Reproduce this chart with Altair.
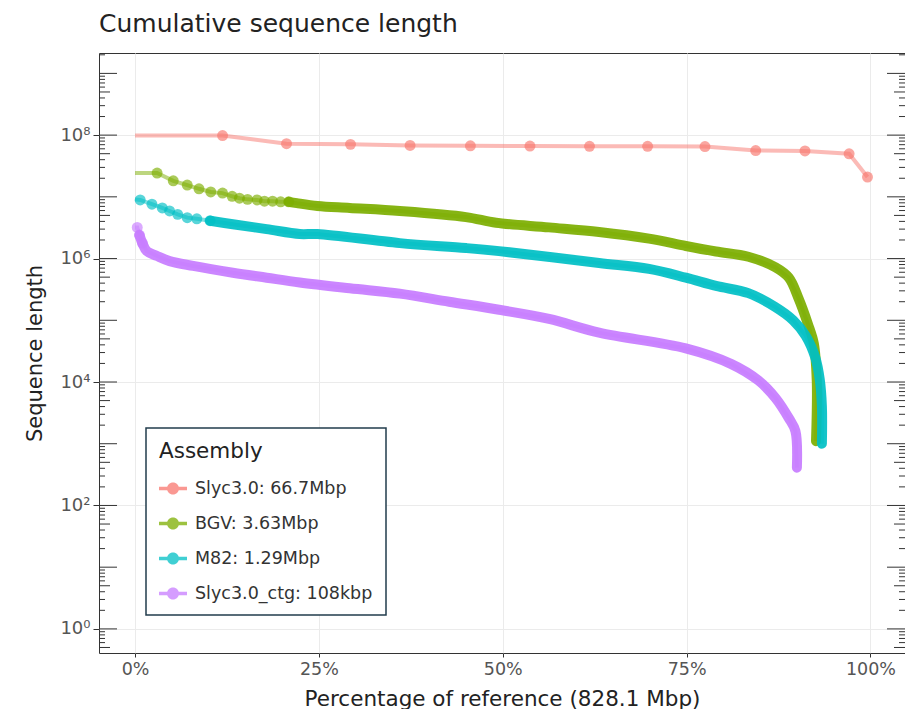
import altair as alt
import pandas as pd

FONT = "DejaVu Sans"
W, H = 806, 600

SERIES = ["Slyc3.0: 66.7Mbp", "BGV: 3.63Mbp", "M82: 1.29Mbp", "Slyc3.0_ctg: 108kbp"]
COLORS = ["#F8766D", "#7CAE00", "#00BFC4", "#C77CFF"]

# ---- Slyc3.0 (chromosomes)
red_start = 98.5e6
red_dot_pct = [11.9, 20.6, 29.3, 37.4, 45.6, 53.7, 61.8, 69.7, 77.5, 84.4, 91.1, 97.1, 99.6]
red_dot_len = [98.5e6, 72.5e6, 70.8e6, 68.0e6, 67.1e6, 66.5e6, 65.9e6, 65.8e6, 65.3e6, 56.3e6, 55.3e6, 49.8e6, 20.9e6]
red_band_pct = []
red_band_len = []

# ---- BGV
green_start = 2.43e7
green_dot_pct = [3.0, 5.2, 7.1, 8.7, 10.3, 11.9, 13.2, 14.2, 15.3, 16.6, 17.6, 18.7, 19.8, 20.9]
green_dot_len = [2.43e7, 1.82e7, 1.55e7, 1.35e7, 1.20e7, 1.15e7, 1.02e7, 9.5e6, 9.1e6, 8.9e6, 8.5e6, 8.5e6, 8.3e6, 8.3e6]
green_band_pct = [20.9, 22.0, 24.8, 29.2, 36.0, 45.0, 49.1, 56.3, 63.1, 69.9, 74.9, 79.0, 83.4, 87.1, 88.9, 90.2, 91.5, 92.3, 92.7, 92.6]
green_band_len = [8.3e6, 7.9e6, 7.1e6, 6.6e6, 5.9e6, 4.7e6, 3.8e6, 3.2e6, 2.7e6, 2.1e6, 1.6e6, 1.3e6, 1.07e6, 7.2e5, 4.9e5, 2.3e5, 8.7e4, 4.2e4, 1.05e4, 1.1e3]

# ---- M82
cyan_start = 9.1e6
cyan_dot_pct = [0.7, 2.3, 3.7, 4.7, 5.8, 7.1, 8.4, 10.2]
cyan_dot_len = [8.9e6, 7.6e6, 6.6e6, 5.9e6, 5.2e6, 4.6e6, 4.4e6, 4.1e6]
cyan_band_pct = [10.2, 13.3, 17.9, 22.4, 24.8, 36.0, 45.0, 49.5, 63.1, 69.9, 74.9, 79.0, 83.4, 87.0, 89.5, 91.2, 92.5, 93.1, 93.4, 93.4]
cyan_band_len = [4.1e6, 3.6e6, 3.0e6, 2.5e6, 2.5e6, 1.78e6, 1.48e6, 1.32e6, 8.5e5, 6.8e5, 4.9e5, 3.6e5, 2.75e5, 1.66e5, 1.0e5, 5.6e4, 2.5e4, 1.12e4, 4.0e3, 1.0e3]

# ---- Slyc3.0_ctg
purple_start = 3.2e6
purple_dot_pct = [0.3, 0.6, 1.0]
purple_dot_len = [3.2e6, 2.4e6, 1.78e6]
purple_band_pct = [0.6, 1.0, 1.6, 3.0, 4.7, 7.9, 13.3, 17.9, 22.4, 29.2, 36.0, 42.7, 49.5, 56.3, 63.1, 74.9, 81.1, 84.8, 87.1, 88.9, 89.8, 90.0]
purple_band_len = [2.4e6, 1.78e6, 1.32e6, 1.1e6, 9.1e5, 7.6e5, 5.9e5, 4.9e5, 4.1e5, 3.3e5, 2.7e5, 2.0e5, 1.48e5, 1.05e5, 6.3e4, 3.5e4, 1.95e4, 1.05e4, 5.5e3, 2.6e3, 1.6e3, 4.1e2]

X_TICKS = [0, 25, 50, 75, 100]
Y_TICKS = [1, 1e2, 1e4, 1e6, 1e8]
LOG_MAJOR = [1, 1e1, 1e2, 1e3, 1e4, 1e5, 1e6, 1e7, 1e8, 1e9]
LOG_MID = [0.5, 5, 50, 5e2, 5e3, 5e4, 5e5, 5e6, 5e7, 5e8]
LOG_MINOR = [m * 10.0 ** k for k in range(-1, 10) for m in (2, 3, 4, 6, 7, 8, 9)
             if 0.41 <= m * 10.0 ** k <= 2.1e9]

series_data = [
    (SERIES[0], red_start, red_dot_pct, red_dot_len, red_band_pct, red_band_len),
    (SERIES[1], green_start, green_dot_pct, green_dot_len, green_band_pct, green_band_len),
    (SERIES[2], cyan_start, cyan_dot_pct, cyan_dot_len, cyan_band_pct, cyan_band_len),
    (SERIES[3], purple_start, purple_dot_pct, purple_dot_len, purple_band_pct, purple_band_len),
]

line_rows, dot_rows, band_rows = [], [], []
for name, start, dp, dl, bp, bl in series_data:
    pts = [(0.0, start)] + list(zip(dp, dl))
    last = dp[-1] if dp else 0.0
    pts += [(p, v) for p, v in zip(bp, bl) if p > last]
    for i, (p, v) in enumerate(pts):
        line_rows.append({"series": name, "pct": p, "len": v, "idx": i})
    for p, v in zip(dp, dl):
        dot_rows.append({"series": name, "pct": p, "len": v})
    for i, (p, v) in enumerate(zip(bp, bl)):
        band_rows.append({"series": name, "pct": p, "len": v, "idx": i})

line_df = pd.DataFrame(line_rows)
dot_df = pd.DataFrame(dot_rows)
band_df = pd.DataFrame(band_rows)

color_scale = alt.Scale(domain=SERIES, range=COLORS)
x_scale = alt.Scale(domain=[-4.9, 104.7], nice=False, zero=False)
y_scale = alt.Scale(type="log", domain=[0.407, 2.14e9], nice=False)

x_axis = alt.Axis(
    values=X_TICKS, labelExpr="datum.value + '%'", tickSize=4, tickColor="#333",
    domain=False, grid=True, gridColor="#ebebeb", gridWidth=1,
    labelFont=FONT, labelFontSize=17.5, labelColor="#555", labelPadding=3,
    title="Percentage of reference (828.1 Mbp)", titleFont=FONT, titleFontSize=21.5,
    titleFontWeight="normal", titleColor="#222", titleY=46, titleBaseline="middle",
)
y_axis = alt.Axis(
    values=Y_TICKS,
    labelExpr="'10' + ['⁰','¹','²','³','⁴','⁵','⁶','⁷','⁸','⁹'][round(log(datum.value)/LN10)]",
    tickSize=6, tickColor="#333", domain=False, grid=True, gridColor="#ebebeb", gridWidth=1,
    labelFont=FONT, labelFontSize=18, labelColor="#555", labelPadding=3,
    title="Sequence length", titleFont=FONT, titleFontSize=21, titleFontWeight="normal",
    titleColor="#222", titleX=-64, titleY=H / 2, titleBaseline="middle", titleAlign="center",
)

SYMBOL = ("M-1,-0.13L1,-0.13L1,0.13L-1,0.13Z "
          "M-0.43,0A0.43,0.43 0 1,1 0.43,0A0.43,0.43 0 1,1 -0.43,0Z")
legend = alt.Legend(
    orient="none", legendX=47, legendY=375, title="Assembly",
    titleFont=FONT, titleFontSize=21.5, titleFontWeight="normal", titleColor="#222",
    titlePadding=12, labelFont=FONT, labelFontSize=17.5, labelColor="#333", labelOffset=8,
    labelLimit=400, symbolType=SYMBOL, symbolSize=784, symbolOpacity=0.75, symbolStrokeWidth=0,
    padding=13, rowPadding=12, strokeColor="#223c4c", fillColor="white",
)

X = alt.X("pct:Q", scale=x_scale, axis=x_axis)
Y = alt.Y("len:Q", scale=y_scale, axis=y_axis)
C = alt.Color("series:N", scale=color_scale, legend=legend)

lines = alt.Chart(line_df).mark_line(strokeWidth=4, opacity=0.5).encode(
    x=X, y=Y, color=C, order=alt.Order("idx:Q"),
)
bands = alt.Chart(band_df).mark_line(
    strokeWidth=10, opacity=0.92, strokeCap="round", strokeJoin="round", interpolate="catmull-rom"
).encode(x=X, y=Y, color=C, order=alt.Order("idx:Q"))

dots = alt.Chart(dot_df).mark_circle(size=120, opacity=0.65).encode(x=X, y=Y, color=C)


def tick_layer(values, x0, x1):
    df = pd.DataFrame({"len": values})
    return alt.Chart(df).mark_rule(color="#333", strokeWidth=1).encode(
        x=alt.value(x0), x2=alt.value(x1), y=Y,
    )


ticks = [
    tick_layer(LOG_MAJOR, 0, 18), tick_layer(LOG_MID, 0, 11), tick_layer(LOG_MINOR, 0, 6),
    tick_layer(LOG_MAJOR, W, W - 18), tick_layer(LOG_MID, W, W - 11), tick_layer(LOG_MINOR, W, W - 6),
]

chart = alt.layer(lines, bands, dots, *ticks).properties(
    width=W, height=H,
    autosize=alt.AutoSizeParams(type="none"),
    padding={"left": 91, "top": 45, "right": 0, "bottom": 56},
    title=alt.Title("Cumulative sequence length", anchor="start", frame="group",
                    font=FONT, fontSize=25, fontWeight="normal", color="#222",
                    baseline="alphabetic", offset=21, dy=25),
).configure_view(stroke="#333", strokeWidth=1).configure_legend(strokeWidth=1.5)

chart.save("out.html", embed_options={"renderer": "svg", "actions": False})
